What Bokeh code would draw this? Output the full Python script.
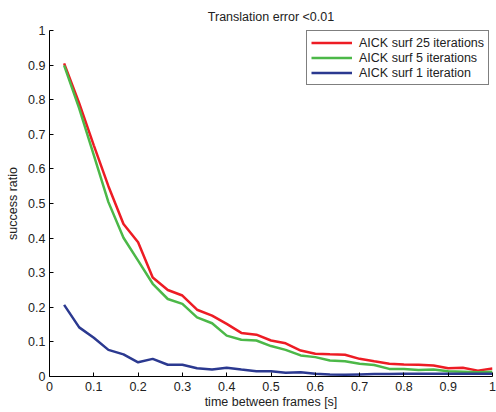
from bokeh.plotting import figure
from bokeh.models import Range1d, FixedTicker, Legend, LegendItem
from bokeh.embed import file_html
from bokeh.resources import INLINE

# ---- data ----
time_s = [0.033, 0.067, 0.100, 0.133, 0.167, 0.200, 0.233, 0.267, 0.300, 0.333,
          0.367, 0.400, 0.433, 0.467, 0.500, 0.533, 0.567, 0.600, 0.633, 0.667,
          0.700, 0.733, 0.767, 0.800, 0.833, 0.867, 0.900, 0.933, 0.967, 1.000]

surf_25 = [0.905, 0.790, 0.668, 0.550, 0.441, 0.388, 0.286, 0.250, 0.234, 0.193,
           0.176, 0.152, 0.126, 0.121, 0.104, 0.096, 0.075, 0.066, 0.064, 0.063,
           0.051, 0.044, 0.037, 0.035, 0.034, 0.032, 0.024, 0.025, 0.017, 0.023]

surf_5 = [0.899, 0.775, 0.640, 0.504, 0.401, 0.335, 0.268, 0.224, 0.210, 0.171,
          0.154, 0.118, 0.106, 0.104, 0.088, 0.077, 0.061, 0.056, 0.046, 0.044,
          0.037, 0.033, 0.022, 0.022, 0.019, 0.020, 0.015, 0.014, 0.012, 0.014]

surf_1 = [0.207, 0.142, 0.112, 0.077, 0.064, 0.041, 0.051, 0.034, 0.034, 0.024,
          0.020, 0.025, 0.020, 0.015, 0.015, 0.011, 0.012, 0.008, 0.006, 0.005,
          0.006, 0.007, 0.007, 0.008, 0.008, 0.008, 0.008, 0.008, 0.008, 0.008]

series_labels = ["AICK surf 25 iterations", "AICK surf 5 iterations", "AICK surf 1 iteration"]
x_ticks = [0, 0.1, 0.2, 0.3, 0.4, 0.5, 0.6, 0.7, 0.8, 0.9, 1]
y_ticks = [0, 0.1, 0.2, 0.3, 0.4, 0.5, 0.6, 0.7, 0.8, 0.9, 1]
tick_overrides = {0: "0", 1: "1"}

FONT = "Liberation Sans"
FS = "12.5px"
colors = ["#ED1C24", "#4CB848", "#2B3990"]

p = figure(width=496, height=412, output_backend="svg", toolbar_location=None,
           x_range=Range1d(0, 1), y_range=Range1d(0, 1),
           min_border_left=49, min_border_right=4, min_border_top=30, min_border_bottom=36,
           title="Translation error <0.01")
p.title.align = "center"
p.title.text_font = FONT
p.title.text_font_size = FS
p.title.text_font_style = "normal"
p.title.text_color = "#222222"
p.title.standoff = 14

p.xgrid.visible = False
p.ygrid.visible = False
p.outline_line_color = None
p.background_fill_color = "white"
p.border_fill_color = "white"

for ax, ticks in ((p.xaxis[0], x_ticks), (p.yaxis[0], y_ticks)):
    ax.ticker = FixedTicker(ticks=ticks)
    ax.major_label_overrides = tick_overrides
    ax.axis_line_color = "black"
    ax.axis_line_width = 1
    ax.major_tick_in = 4
    ax.major_tick_out = 0
    ax.major_tick_line_color = "black"
    ax.minor_tick_line_color = None
    ax.major_label_text_font = FONT
    ax.major_label_text_font_size = FS
    ax.major_label_text_color = "#222222"
    ax.axis_label_text_font = FONT
    ax.axis_label_text_font_size = FS
    ax.axis_label_text_font_style = "normal"
    ax.axis_label_text_color = "#222222"

p.xaxis.axis_label = "time between frames [s]"
p.yaxis.axis_label = "success ratio"
p.xaxis.major_label_standoff = 5
p.xaxis.axis_label_standoff = 1
p.yaxis.major_label_standoff = 4
p.yaxis.axis_label_standoff = 5

renderers = []
for ys, c in zip([surf_25, surf_5, surf_1], colors):
    r = p.line(time_s, ys, line_color=c, line_width=2.5)
    renderers.append(r)

legend = Legend(items=[LegendItem(label=l, renderers=[r]) for l, r in zip(series_labels, renderers)],
                location=(257, 291), orientation="vertical",
                border_line_color="black", border_line_width=1,
                background_fill_color="white", background_fill_alpha=1,
                label_text_font=FONT, label_text_font_size=FS, label_text_color="#222222",
                glyph_width=41, glyph_height=15, label_height=15, spacing=0,
                padding=4, margin=0, label_standoff=7)
p.add_layout(legend)

open("out.html", "w").write(file_html(p, INLINE))
